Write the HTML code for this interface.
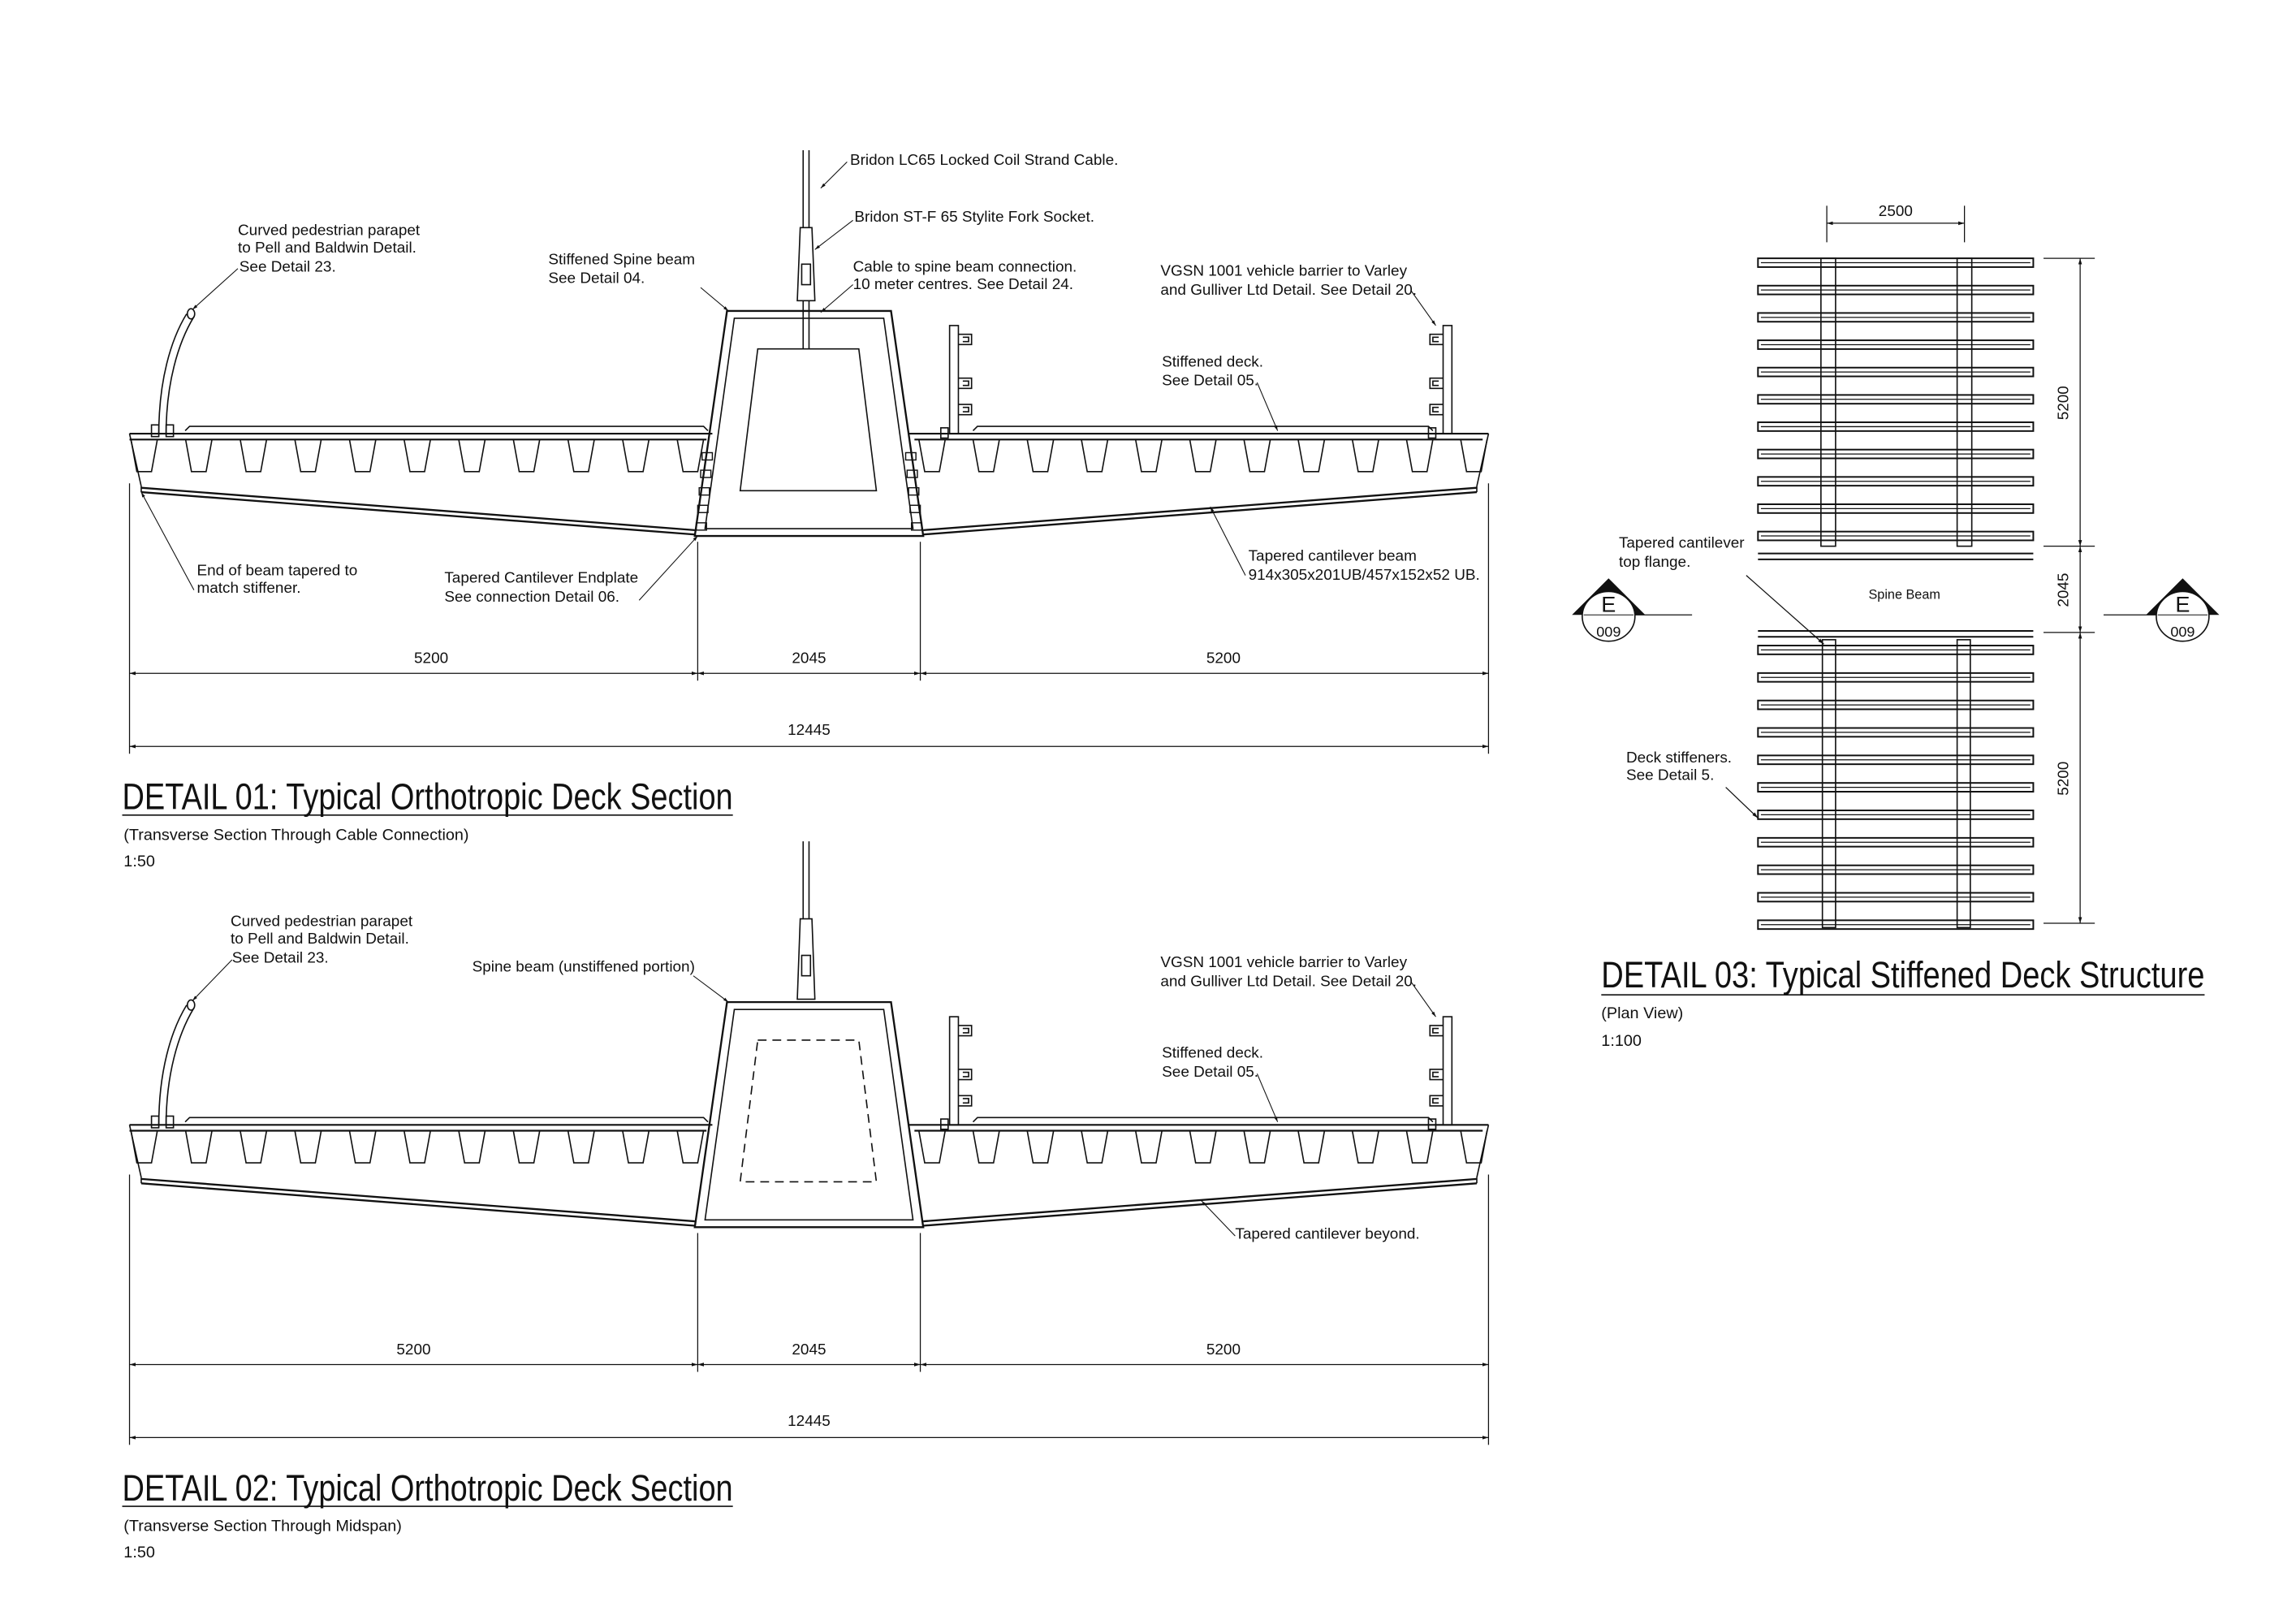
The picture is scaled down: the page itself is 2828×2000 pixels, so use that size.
<!DOCTYPE html>
<html><head><meta charset="utf-8"><style>
html,body{margin:0;padding:0;background:#fff}
svg{display:block}
text{font-family:"Liberation Sans Narrow","Liberation Sans",sans-serif;fill:#111}
.l{font-size:10.5px}
.t{font-size:25px}
.s{font-size:11px}
</style></head><body>
<svg id="s" xmlns="http://www.w3.org/2000/svg" width="2828" height="2000" viewBox="0 0 1560 1103" preserveAspectRatio="none" fill="none" stroke="#111" stroke-width="0.9">
<defs>
<marker id="a" viewBox="0 0 10 10" refX="10" refY="5" markerWidth="6" markerHeight="6" orient="auto-start-reverse"><path d="M0,2L10,5L0,8z" fill="#111" stroke="none"/></marker>
<g id="deck">
  <path d="M88,296H486M88,300H482" stroke-width="1.2"/>
  <path d="M620,296H1016M624,300H1012" stroke-width="1.2"/>
  <path d="M126,294L129,291H480L483,294" />
  <path d="M664,294L667,291H975L978,294" />
  <path d="M88,296L96,332M1016,296L1008,332"/>
  <path d="M96,333L474,362M96,336L474,365" stroke-width="1.3"/>
  <path d="M1008,333L630,362M1008,336L630,365" stroke-width="1.3"/>
  <path d="M96,332V336M1008,332V336"/>
  <path d="M496,212H608L630,366H474Z" stroke-width="1.3"/>
  <path d="M501,217H603L623,361H481Z"/>
  <g id="tr"></g>
</g>
</defs>
<g transform="translate(88,102) scale(0.995,0.9925) translate(-88,-102)">
<use href="#deck"/>
<path d="M517,238H586L598,335H505Z"/>
<path d="M548,102V155M552,102V155"/>
<path d="M546,155L544,205H556L554,155Z"/>
<path d="M547,180h6v14h-6z"/>
<path d="M548,205V238M552,205V238"/>
<g id="bolts" stroke-width="0.8">
<rect x="479" y="309" width="7" height="5"/><rect x="478" y="321" width="7" height="5"/><rect x="477" y="333" width="7" height="5"/><rect x="476" y="345" width="7" height="5"/><rect x="475" y="357" width="7" height="5"/>
<rect x="618" y="309" width="7" height="5"/><rect x="619" y="321" width="7" height="5"/><rect x="620" y="333" width="7" height="5"/><rect x="621" y="345" width="7" height="5"/><rect x="622" y="357" width="7" height="5"/>
</g>
<g id="par">
<path d="M108,296C108,260 116,232 127,214M113,296C113,262 121,234 132,216"/>
<ellipse cx="130" cy="214" rx="2.5" ry="3.5"/>
<path d="M117,230v0M116,242v0M115,254v0M114,266v0M113,278" stroke-dasharray="1 11" />
<rect x="103" y="290" width="5" height="8"/><rect x="113" y="290" width="5" height="8"/>
</g>
<g id="bar">
<rect x="648" y="222" width="6" height="74"/>
<path d="M654,228h9v7h-9M654,258h9v7h-9M654,276h9v7h-9"/>
<path d="M657,230h4v3h-4M657,260h4v3h-4M657,278h4v3h-4"/>
<rect x="985" y="222" width="6" height="74"/>
<path d="M985,228h-9v7h9M985,258h-9v7h9M985,276h-9v7h9"/>
<path d="M982,230h-4v3h4M982,260h-4v3h4M982,278h-4v3h4"/>
<rect x="642" y="292" width="5" height="7"/><rect x="975" y="292" width="5" height="7"/>
</g>
<g id="dims" stroke-width="0.7">
<path d="M88,330V515M476,370V465M628,370V465M1016,330V515"/>
<path d="M88,460H476" marker-start="url(#a)" marker-end="url(#a)"/>
<path d="M476,460H628" marker-start="url(#a)" marker-end="url(#a)"/>
<path d="M628,460H1016" marker-start="url(#a)" marker-end="url(#a)"/>
<path d="M88,510H1016" marker-start="url(#a)" marker-end="url(#a)"/>
</g>
<g stroke="none">
<text class="l" x="294" y="453" text-anchor="middle">5200</text>
<text class="l" x="552" y="453" text-anchor="middle">2045</text>
<text class="l" x="835" y="453" text-anchor="middle">5200</text>
<text class="l" x="552" y="502" text-anchor="middle">12445</text>
</g>
<g stroke-width="0.6">
<path d="M578,110L560,128" marker-end="url(#a)"/>
<path d="M582,150L556,170" marker-end="url(#a)"/>
<path d="M582,194L560,213" marker-end="url(#a)"/>
<path d="M478,196L497,212" marker-end="url(#a)"/>
<path d="M162,183L131,211" marker-end="url(#a)"/>
<path d="M963,198L980,222" marker-end="url(#a)"/>
<path d="M858,261L872,294" marker-end="url(#a)"/>
<path d="M132,403L96,336" marker-end="url(#a)"/>
<path d="M436,410L476,366" marker-end="url(#a)"/>
<path d="M850,393L826,346" marker-end="url(#a)"/>
</g>
<g stroke="none">
<text class="l" x="580" y="112">Bridon LC65 Locked Coil Strand Cable.</text>
<text class="l" x="583" y="151">Bridon ST-F 65 Stylite Fork Socket.</text>
<text class="l" x="582" y="185">Cable to spine beam connection.</text>
<text class="l" x="582" y="197">10 meter centres. See Detail 24.</text>
<text class="l" x="374" y="180">Stiffened Spine beam</text>
<text class="l" x="374" y="193">See Detail 04.</text>
<text class="l" x="162" y="160">Curved pedestrian parapet</text>
<text class="l" x="162" y="172">to Pell and Baldwin Detail.</text>
<text class="l" x="163" y="185">See Detail 23.</text>
<text class="l" x="792" y="188">VGSN 1001 vehicle barrier to Varley</text>
<text class="l" x="792" y="201">and Gulliver Ltd Detail. See Detail 20.</text>
<text class="l" x="793" y="250">Stiffened deck.</text>
<text class="l" x="793" y="263">See Detail 05.</text>
<text class="l" x="134" y="393">End of beam tapered to</text>
<text class="l" x="134" y="405">match stiffener.</text>
<text class="l" x="303" y="398">Tapered Cantilever Endplate</text>
<text class="l" x="303" y="411">See connection Detail 06.</text>
<text class="l" x="852" y="383">Tapered cantilever beam</text>
<text class="l" x="852" y="396">914x305x201UB/457x152x52 UB.</text>
<text class="t" x="83" y="553" textLength="417" lengthAdjust="spacingAndGlyphs">DETAIL 01: Typical Orthotropic Deck Section</text>
<text class="s" x="84" y="574">(Transverse Section Through Cable Connection)</text>
<text class="s" x="84" y="592">1:50</text>
</g>
<path d="M83,557H500"/>

<g transform="translate(0,473)">
<use href="#deck"/>
<use href="#par"/>
<use href="#bar"/>
<use href="#dims"/>
<path d="M517,238H586L598,335H505Z" stroke-dasharray="6 4"/>
<path d="M548,102V155M552,102V155"/>
<path d="M546,155L544,210H556L554,155Z"/>
<path d="M547,180h6v14h-6z"/>
<g stroke-width="0.6">
<path d="M473,194L497,212" marker-end="url(#a)"/>
<path d="M158,183L131,211" marker-end="url(#a)"/>
<path d="M963,198L980,222" marker-end="url(#a)"/>
<path d="M858,261L872,294" marker-end="url(#a)"/>
<path d="M843,372L820,348" marker-end="url(#a)"/>
</g>
<g stroke="none">
<text class="l" x="282" y="453" text-anchor="middle">5200</text>
<text class="l" x="552" y="453" text-anchor="middle">2045</text>
<text class="l" x="835" y="453" text-anchor="middle">5200</text>
<text class="l" x="552" y="502" text-anchor="middle">12445</text>
<text class="l" x="157" y="160">Curved pedestrian parapet</text>
<text class="l" x="157" y="172">to Pell and Baldwin Detail.</text>
<text class="l" x="158" y="185">See Detail 23.</text>
<text class="l" x="322" y="191">Spine beam (unstiffened portion)</text>
<text class="l" x="792" y="188">VGSN 1001 vehicle barrier to Varley</text>
<text class="l" x="792" y="201">and Gulliver Ltd Detail. See Detail 20.</text>
<text class="l" x="793" y="250">Stiffened deck.</text>
<text class="l" x="793" y="263">See Detail 05.</text>
<text class="l" x="843" y="374">Tapered cantilever beyond.</text>
</g>
</g>
<g stroke="none">
<text class="t" x="83" y="1026" textLength="417" lengthAdjust="spacingAndGlyphs">DETAIL 02: Typical Orthotropic Deck Section</text>
<text class="s" x="84" y="1047">(Transverse Section Through Midspan)</text>
<text class="s" x="84" y="1065">1:50</text>
</g>
<path d="M83,1030H500"/>

<g id="plan"></g>
<path d="M1200,378H1388M1200,382H1388M1200,431H1388M1200,435H1388" stroke-width="1.1"/>
<rect x="1243" y="176" width="10" height="197"/><rect x="1336" y="176" width="10" height="197"/>
<rect x="1244" y="437" width="9" height="197"/><rect x="1336" y="437" width="9" height="197"/>
<g stroke-width="0.7">
<path d="M1247,140V165M1341,140V165"/>
<path d="M1247,152H1341" marker-start="url(#a)" marker-end="url(#a)"/>
<path d="M1395,176H1430M1395,373H1430M1395,432H1430M1395,631H1430"/>
<path d="M1420,176V373" marker-start="url(#a)" marker-end="url(#a)"/>
<path d="M1420,373V432" marker-start="url(#a)" marker-end="url(#a)"/>
<path d="M1420,432V631" marker-start="url(#a)" marker-end="url(#a)"/>
<path d="M1192,393L1245,440" marker-end="url(#a)"/>
<path d="M1178,538L1200,559" marker-end="url(#a)"/>
<path d="M1112,420H1155M1436,420H1480"/>
</g>
<g id="mk">
<path d="M1073,420L1098,395L1123,420Z" fill="#111" stroke="none"/>
<ellipse cx="1098" cy="421" rx="18" ry="17" fill="#fff"/>
<path d="M1081,420H1115" stroke-width="0.6"/>
</g>
<use href="#mk" transform="translate(392,0)"/>
<g stroke="none">
<text x="1098" y="418" text-anchor="middle" style="font-size:15px;font-family:'Liberation Sans',sans-serif">E</text>
<text x="1098" y="435" text-anchor="middle" style="font-size:10px;font-family:'Liberation Sans',sans-serif">009</text>
<text x="1490" y="418" text-anchor="middle" style="font-size:15px;font-family:'Liberation Sans',sans-serif">E</text>
<text x="1490" y="435" text-anchor="middle" style="font-size:10px;font-family:'Liberation Sans',sans-serif">009</text>
<text class="l" x="1294" y="147" text-anchor="middle">2500</text>
<text class="l" transform="translate(1412,275) rotate(-90)" text-anchor="middle">5200</text>
<text class="l" transform="translate(1412,403) rotate(-90)" text-anchor="middle">2045</text>
<text class="l" transform="translate(1412,532) rotate(-90)" text-anchor="middle">5200</text>
<text x="1300" y="409" text-anchor="middle" style="font-size:9px;font-family:'Liberation Sans',sans-serif">Spine Beam</text>
<text class="l" x="1105" y="374">Tapered cantilever</text>
<text class="l" x="1105" y="387">top flange.</text>
<text class="l" x="1110" y="521">Deck stiffeners.</text>
<text class="l" x="1110" y="533">See Detail 5.</text>
<text class="t" x="1093" y="675" textLength="412" lengthAdjust="spacingAndGlyphs">DETAIL 03: Typical Stiffened Deck Structure</text>
<text class="s" x="1093" y="696">(Plan View)</text>
<text class="s" x="1093" y="715">1:100</text>
</g>
<path d="M1093,680H1505"/>
</g>
<script>
(function(){
var NS="http://www.w3.org/2000/svg";
var tr=document.getElementById("tr");
function trough(x){var p=document.createElementNS(NS,"path");
p.setAttribute("d","M"+(x-9)+",300L"+(x-5)+",322H"+(x+5)+"L"+(x+9)+",300");tr.appendChild(p);}
for(var i=0;i<11;i++){trough(98+i*37.3);trough(636+i*37);}
var pl=document.getElementById("plan");
function bar(y){var r=document.createElementNS(NS,"rect");
r.setAttribute("x",1200);r.setAttribute("y",y);r.setAttribute("width",188);r.setAttribute("height",6);r.setAttribute("stroke-width","1.1");pl.appendChild(r);
var l=document.createElementNS(NS,"path");l.setAttribute("d","M1202,"+(y+3)+"H1386");l.setAttribute("stroke-width","0.7");pl.appendChild(l);}
for(var j=0;j<11;j++){bar(176+j*18.7);bar(441+j*18.8);}
})();
</script>
</svg>
</body></html>
